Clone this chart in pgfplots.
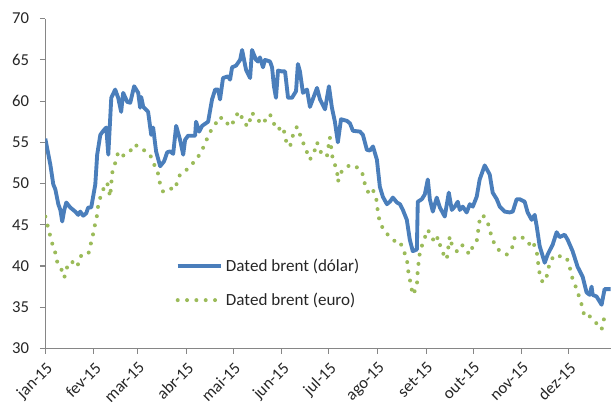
\documentclass[border=0pt]{standalone}
\usepackage{fontspec}
\setmainfont{Carlito}
\usepackage{pgfplots}
\pgfplotsset{compat=1.18}
\definecolor{bblue}{HTML}{4A7EBB}
\definecolor{bgreen}{HTML}{9BBB59}
\definecolor{axgray}{HTML}{868686}
\begin{document}
\begin{tikzpicture}
\begin{axis}[
  scale only axis,
  width=424.5pt, height=247.5pt,
  xmin=0, xmax=361, ymin=30, ymax=70,
  axis x line=bottom, axis y line=left,
  axis line style={axgray, line width=0.8pt, -},
  ytick={30,35,...,70},
  xtick={0,31,59,90,120,151,181,212,243,273,304,334},
  xticklabels={jan-15,fev-15,mar-15,abr-15,mai-15,jun-15,jul-15,ago-15,set-15,out-15,nov-15,dez-15},
  tick align=outside,
  major tick length=4pt,
  tick style={axgray, line width=0.8pt},
  xticklabel style={yshift=-3.8pt, rotate=45, anchor=north east, inner sep=1pt},
  yticklabel style={anchor=east, inner sep=2pt, xshift=-6pt},
  /pgf/number format/assume math mode=true,
  ticklabel style={font=\fontsize{12.5}{14}\selectfont, text=black!85},
  legend style={at={(0.223,0.288)}, anchor=north west, draw=none, fill=none,
    font=\fontsize{12.8}{14}\selectfont, row sep=10.5pt, text=black!85},
  legend cell align=left,
  legend image code/.code={\draw[#1] (0cm,0cm) -- (1.15cm,0cm);},
]
\addplot[bblue, line width=2.9pt, line join=round] coordinates {
(0,55.45) (3.2,52.3) (5.1,49.9) (6.4,49.3) (8.3,47.5) (9.6,46.8) (10.8,45.4)
(12.1,46.8) (13.4,47.7) (15.9,47.1) (19.1,46.6) (21.0,46.2) (22.3,46.6)
(24.2,46.1) (26.1,46.4) (27.4,47.1) (29.3,47.1) (31.9,49.9) (33.1,53.5)
(35.1,55.9) (37.0,56.4) (38.9,56.8) (40.2,53.5) (42.1,60.4) (44.6,61.4)
(46.5,60.4) (48.4,58.7) (49.7,61.0) (52.3,59.9) (54.2,59.8) (56.7,61.8)
(59.3,61.0) (60.5,59.2) (61.2,60.5) (62.5,59.3) (65.6,58.7) (67.6,55.9)
(68.8,56.8) (70.7,53.9) (73.3,52.1) (75.8,52.7) (77.8,53.8) (79.7,53.9)
(81.6,53.6) (83.5,57.0) (86.0,55.3) (88.0,53.5) (89.2,55.3) (91.1,55.8)
(93.7,55.8) (95.6,55.8) (96.2,57.5) (98.2,56.3) (100.1,57.0) (103.9,57.5)
(106.4,60.2) (108.4,61.4) (110.3,61.4) (111.5,60.2) (113.4,62.8) (116.6,63.0)
(117.9,62.6) (119.2,64.1) (121.7,64.3) (124.3,65.0) (125.6,66.2) (128.1,63.8)
(130.7,62.8) (131.9,66.2) (134.5,65.0) (135.7,64.8) (137.0,65.3) (138.9,64.1)
(140.2,65.0) (143.4,64.8) (144.7,64.1) (145.9,61.8) (147.2,60.4) (148.5,63.7)
(151.0,63.6) (153.0,63.6) (154.9,60.4) (157.4,60.4) (160.0,61.2) (161.2,64.5)
(162.5,63.6) (164.4,61.0) (167.0,61.4) (168.9,59.3) (173.4,61.6) (175.3,60.2)
(178.5,59.0) (181.0,61.8) (182.9,59.2) (184.8,57.5) (186.7,55.0) (188.7,57.8)
(192.5,57.6) (194.4,57.3) (196.3,56.4) (200.8,56.3) (202.7,55.9) (205.2,54.1)
(207.1,54.0) (209.1,54.5) (211.6,52.9) (213.5,49.6) (215.4,48.4) (218.0,47.5)
(219.9,47.8) (221.8,48.3) (224.4,47.7) (226.3,47.5) (228.2,46.8) (230.7,45.6)
(232.6,43.2) (234.5,41.8) (237.1,42.0) (237.7,47.8) (240.3,48.1) (242.2,48.7)
(244.1,50.5) (245.4,48.1) (247.3,46.6) (249.8,48.3) (251.8,47.1) (254.9,46.0)
(257.5,48.9) (259.4,46.8) (261.3,47.2) (263.2,47.8) (264.5,46.8) (266.4,47.2)
(268.9,46.5) (270.9,47.5) (272.8,47.2) (275.3,48.4) (277.2,50.5) (280.4,52.2)
(283.6,51.1) (285.5,48.9) (288.1,48.1) (290.0,47.2) (293.2,46.6) (296.3,46.5)
(298.3,46.6) (300.8,48.1) (302.7,48.1) (305.9,47.8) (307.8,46.5) (310.4,45.6)
(312.3,46.2) (313.6,44.8) (315.5,42.4) (318.7,40.4) (320.6,41.4) (323.8,42.6)
(326.3,44.1) (328.2,43.5) (331.4,43.8) (333.3,43.2) (336.5,41.8) (339.7,39.9)
(342.9,38.7) (345.4,36.8) (347.4,36.5) (348.6,37.5) (349.3,36.5) (351.8,36.3)
(355.0,35.3) (356.9,37.2) (360.8,37.2)
};
\addlegendentry{Dated brent (dólar)}
\addplot[bgreen, line width=3pt, line cap=round, line join=round, dash pattern=on 0pt off 7pt] coordinates {
(0,46.0) (2.5,44.1) (3.8,43.2) (5.1,42.2) (6.4,41.6) (7.6,40.5) (9.6,39.9)
(11.5,39.0) (12.1,38.6) (13.4,39.5) (14.7,40.4) (17.2,40.5) (20.4,39.9)
(22.3,41.2) (25.5,41.3) (27.4,41.4) (28.7,42.4) (30.0,43.5) (31.2,44.4)
(31.9,45.3) (33.1,46.2) (33.8,47.5) (35.1,48.3) (37.0,49.3) (38.2,49.9)
(39.5,50.1) (41.4,48.4) (42.7,51.3) (44.6,52.5) (46.5,53.8) (49.1,53.3)
(51.0,53.6) (54.2,53.9) (56.1,54.7) (60.5,54.5) (62.5,54.1) (65.0,53.8)
(66.9,53.5) (68.8,52.5) (71.4,51.7) (73.3,49.9) (75.2,49.0) (79.7,49.4)
(82.9,49.3) (84.1,50.2) (86.0,51.1) (88.0,51.5) (90.5,51.7) (94.3,52.5)
(96.9,52.9) (98.8,53.8) (102.0,54.7) (103.9,55.9) (107.1,56.8) (111.5,58.1)
(116.0,57.2) (117.9,57.8) (119.8,57.4) (122.4,58.4) (124.3,58.7) (126.2,57.5)
(129.4,56.9) (131.9,58.6) (135.1,57.8) (138.9,57.2) (141.5,58.1) (143.4,58.4)
(145.3,57.5) (147.9,56.5) (151.7,56.9) (154.2,54.7) (156.2,54.5) (158.1,55.9)
(160.6,56.9) (163.8,55.3) (167.0,53.8) (168.9,52.9) (172.1,54.1) (173.4,55.0)
(176.5,53.5) (179.7,53.3) (181.6,55.6) (183.6,52.7) (186.1,51.8) (186.7,50.2)
(188.0,51.1) (189.9,51.7) (193.1,52.1) (195.7,52.3) (197.6,52.1) (199.5,51.9)
(202.0,51.5) (204.0,49.9) (205.9,49.0) (208.4,49.5) (210.3,48.7) (211.6,47.8)
(212.2,46.5) (213.5,45.3) (216.7,44.1) (219.9,43.6) (223.1,43.0) (226.3,43.0)
(228.2,42.0) (230.7,41.0) (231.4,39.6) (232.6,38.4) (234.5,36.5) (237.1,37.5)
(237.7,39.6) (239.0,41.6) (240.9,42.8) (244.1,44.4) (246.7,43.5) (248.6,42.8)
(250.5,43.5) (253.0,41.8) (256.2,40.8) (258.1,43.6) (259.4,42.6) (262.6,41.8)
(265.8,42.6) (268.9,41.8) (270.9,41.4) (272.8,42.4) (275.3,43.0) (277.2,45.6)
(279.2,46.2) (282.3,45.3) (284.9,43.5) (286.8,42.6) (290.0,41.8) (294.5,41.4)
(297.6,42.0) (299.6,43.5) (302.7,43.6) (307.2,43.2) (309.1,42.6) (311.0,43.0)
(313.6,41.8) (314.2,40.8) (315.5,39.0) (317.4,38.0) (319.9,38.7) (321.9,40.4)
(323.8,41.0) (326.3,41.4) (330.1,41.0) (332.7,41.0) (334.6,39.9) (336.5,38.4)
(339.1,37.2) (342.3,35.3) (344.2,33.8) (347.4,33.9) (349.3,33.5) (352.5,32.9)
(355.0,32.3) (356.9,33.9) (360.8,33.9)
};
\addlegendentry{Dated brent (euro)}
\end{axis}
\pgfresetboundingbox
\path ([xshift=-34pt,yshift=-41.8pt]current axis.south west) rectangle ([yshift=14pt]current axis.north east);
\end{tikzpicture}
\end{document}
